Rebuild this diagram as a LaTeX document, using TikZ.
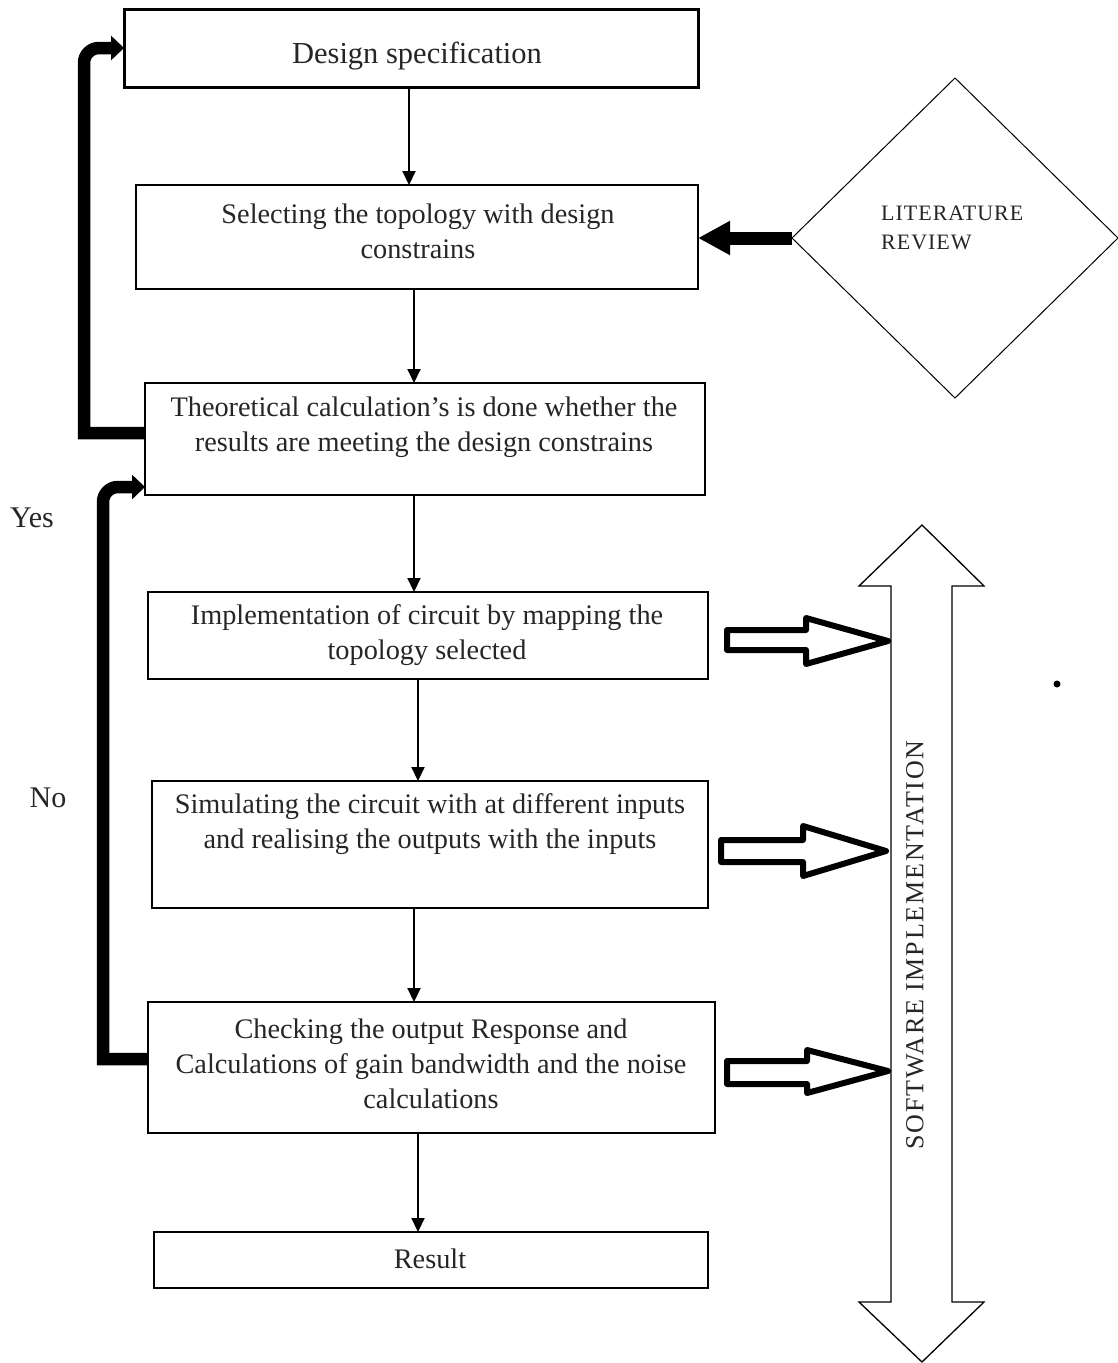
\documentclass[tikz,border=0pt]{standalone}
\usepackage{fontspec}
\setmainfont{Liberation Serif}
\newfontfamily\spacedfont[LetterSpace=7]{Liberation Serif}
\newfontfamily\litfont[LetterSpace=4.5]{Liberation Serif}
\usetikzlibrary{arrows.meta,calc,shapes.geometric}
\begin{document}
\begin{tikzpicture}[x=1pt,y=-1pt,
  box/.style={draw,fill=white,inner sep=0pt,outer sep=0pt},
  txt/.style={align=center,inner sep=0pt,text=black!85,font=\fontsize{28.3}{35}\selectfont},
  thin/.style={line width=2pt,-{Triangle[length=14pt,width=13pt]}},
  fb/.style={line width=12.5pt,-{Triangle[length=13pt,width=24pt]}},
  hollow/.style={line width=6pt,line join=round,fill=white},
  side/.style={inner sep=0pt,text=black!85,font=\fontsize{30}{32}\selectfont}]
\path[use as bounding box,fill=white] (0,0) rectangle (1118,1363);

\node[box,line width=3pt,minimum width=574pt,minimum height=78pt] (b1) at (411,48) {};
\node[box,line width=2.4pt,minimum width=562pt,minimum height=104pt] (b2) at (417,237) {};
\node[box,line width=1.2pt,minimum width=560pt,minimum height=112pt] (b3) at (425,439) {};
\node[box,line width=1.2pt,minimum width=560pt,minimum height=87pt] (b4) at (428,635.5) {};
\node[box,line width=1.2pt,minimum width=556pt,minimum height=127pt] (b5) at (430,844.5) {};
\node[box,line width=1.2pt,minimum width=567pt,minimum height=131pt] (b6) at (431.5,1067.5) {};
\node[box,line width=1.2pt,minimum width=554pt,minimum height=56pt] (b7) at (431,1260) {};

\node[txt,font=\fontsize{30.5}{35}\selectfont] (t1) at (417,56) {Design specification};
\node[txt] (t2) at (418,231) {Selecting the topology with design\\constrains};
\node[txt] (t3) at (424,427) {Theoretical calculation’s is done whether the\\results are meeting the design constrains};
\node[txt] (t4) at (427,635) {Implementation of circuit by mapping the\\topology selected};
\node[txt] (t5) at (430,824) {Simulating the circuit with at different inputs\\and realising the outputs with the inputs};
\node[txt] (t6) at (431,1064) {Checking the output Response and\\Calculations of gain bandwidth and the noise\\calculations};
\node[txt] (t7) at (430,1259) {Result};

% literature review
\node[draw,line width=1pt,diamond,inner sep=0pt,outer sep=0pt,minimum width=326pt,minimum height=320pt] (lr) at (955,238) {};
\node[inner sep=0pt,align=left,anchor=west,text=black!85,font=\litfont\fontsize{22}{29}\selectfont] (lrt) at (881,228) {LITERATURE\\REVIEW};
\draw[line width=13pt,-{Triangle[length=32pt,width=32pt]}] (lr.west) -- (b2.east |- lr.west);

% thin arrows
\draw[thin] (b1.south -| 409,0) -- (b2.north -| 409,0);
\draw[thin] (b2.south -| 414,0) -- (b3.north -| 414,0);
\draw[thin] (b3.south -| 414,0) -- (b4.north -| 414,0);
\draw[thin] (b4.south -| 418,0) -- (b5.north -| 418,0);
\draw[thin] (b5.south -| 414,0) -- (b6.north -| 414,0);
\draw[thin] (b6.south -| 418,0) -- (b7.north -| 418,0);

% feedback arrows
\draw[fb] ([yshift=6pt]b3.west) -- (84,433) -- (84,63) arc[start angle=180,end angle=270,radius=15] -- (b1.west);
\draw[fb] ([yshift=8.5pt]b6.west) -- (103,1059) -- (103,502) arc[start angle=180,end angle=270,radius=15] -- ([yshift=8pt]b3.south west);

\node[side] (yes) at (32,518) {Yes};
\node[side] (no) at (48,798) {No};

% software implementation double arrow
\draw[line width=1.3pt,line join=miter] (922,525) -- (984,586) -- (952,586) -- (952,1302) -- (984,1302) -- (922,1362) -- (859,1302) -- (891,1302) -- (891,586) -- (859,586) -- cycle;
\node[inner sep=0pt,rotate=90,text=black!85,font=\spacedfont\fontsize{26}{28}\selectfont] (sw) at (915,945) {SOFTWARE IMPLEMENTATION};

% hollow arrows
\draw[hollow] (727,630) -- (806,630) -- (806,618) -- (888,641) -- (806,664) -- (806,650) -- (727,650) -- cycle;
\draw[hollow] (721,840) -- (803,840) -- (803,826) -- (886,851) -- (803,876) -- (803,862) -- (721,862) -- cycle;
\draw[hollow] (727,1061) -- (807,1061) -- (807,1050) -- (888,1071) -- (807,1093) -- (807,1084) -- (727,1084) -- cycle;

\fill (1057,684) circle[radius=3.5];
\end{tikzpicture}
\end{document}
